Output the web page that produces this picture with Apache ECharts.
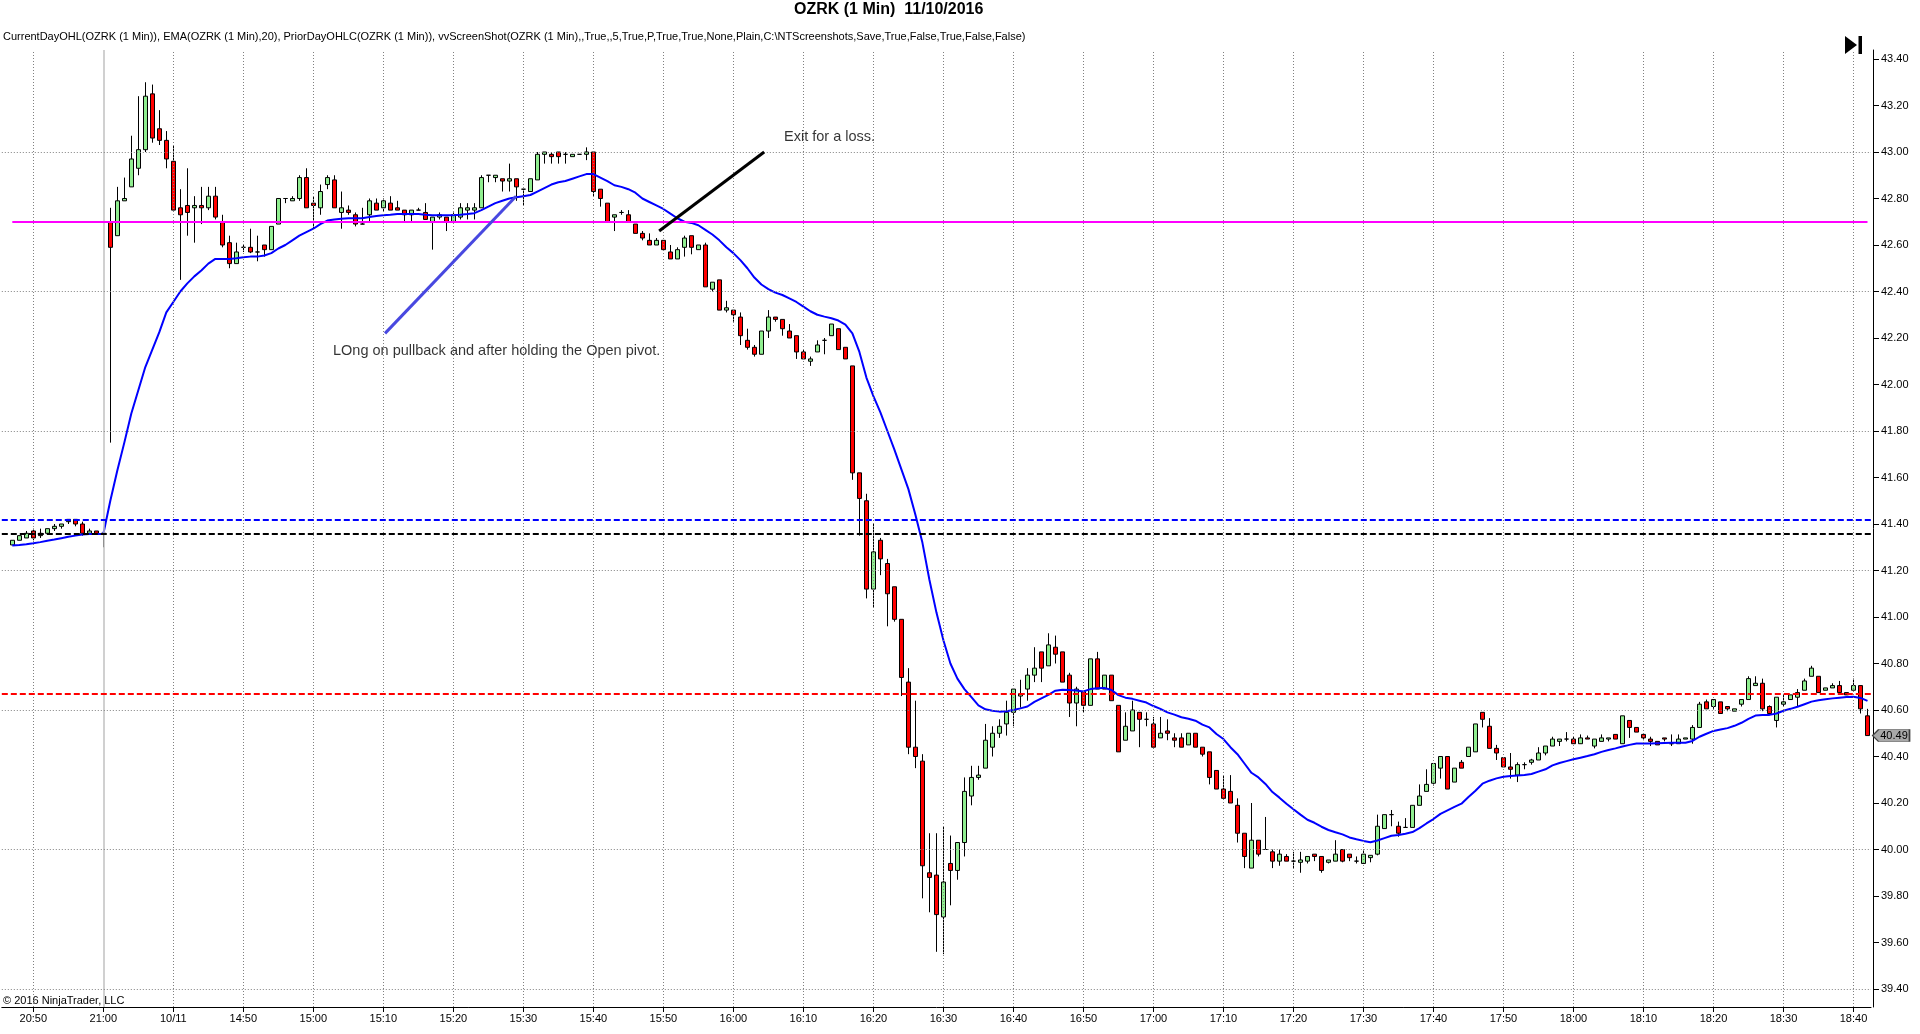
<!DOCTYPE html>
<html><head><meta charset="utf-8">
<script src="https://cdn.jsdelivr.net/npm/echarts@6/dist/echarts.min.js"></script>
<style>html,body{margin:0;padding:0;background:#fff;}#c{width:1920px;height:1034px;}</style>
</head><body><div id="c"></div>
<script>
// ---------- DATA ----------
const titleText = 'OZRK (1 Min)  11/10/2016';
const indicatorText = 'CurrentDayOHL(OZRK (1 Min)), EMA(OZRK (1 Min),20), PriorDayOHLC(OZRK (1 Min)), vvScreenShot(OZRK (1 Min),,True,,5,True,P,True,True,None,Plain,C:\\NTScreenshots,Save,True,False,True,False,False)';
const copyrightText = '\u00A9 2016 NinjaTrader, LLC';

// bar times: prior session 20:47-21:00, current session 14:31-18:42 (1-minute bars)
const priorSession = ['20:47', '21:00'];
const currentSession = ['14:31', '18:42'];

const opens = [41.31,41.33,41.34,41.37,41.35,41.36,41.38,41.39,41.41,41.42,41.40,41.36,41.37,41.36,
42.70,42.64,42.79,42.85,42.93,43.01,43.25,43.10,43.05,42.96,42.76,42.77,42.76,42.77,42.76,42.81,42.70,42.61,42.52,42.59,
42.59,42.57,42.60,42.58,42.69,42.80,42.79,42.80,42.89,42.78,42.76,42.86,42.88,42.74,42.75,42.73,42.69,42.73,42.78,42.76,42.78,42.76,42.75,42.73,42.75,42.74,42.70,42.72,42.72,42.70,42.72,42.75,42.75,42.76,42.90,42.89,
42.885,42.875,42.885,42.84,42.83,42.88,42.99,42.99,43.00,42.99,42.98,42.99,42.99,43.00,42.84,42.78,42.72,42.74,42.73,42.69,42.65,42.62,42.60,42.62,42.57,42.54,42.59,42.64,42.58,42.60,42.41,42.45,42.32,42.32,42.29,42.19,
42.16,42.13,42.23,42.29,42.28,42.23,42.21,42.14,42.10,42.14,42.19,42.21,42.24,42.16,42.08,41.62,41.50,41.12,41.33,41.23,41.13,40.99,40.72,40.44,40.38,39.90,39.89,39.71,39.94,39.91,40.03,40.23,40.31,40.35,40.44,40.50,
40.54,40.59,40.66,40.69,40.75,40.85,40.79,40.87,40.85,40.75,40.63,40.68,40.62,40.82,40.69,40.75,40.62,40.47,40.51,40.59,40.56,40.54,40.48,40.51,40.48,40.48,40.45,40.50,40.44,40.42,40.34,40.26,40.25,40.19,40.07,39.92,
40.04,40.00,39.99,39.95,39.97,39.95,39.945,39.95,39.98,39.97,39.945,39.95,40.00,39.98,39.95,39.94,39.965,39.98,40.09,40.15,40.10,40.095,40.095,40.19,40.25,40.285,40.35,40.40,40.29,40.375,40.40,40.42,40.59,40.53,40.435,40.395,
40.355,40.32,40.365,40.375,40.385,40.415,40.445,40.465,40.475,40.475,40.455,40.48,40.445,40.465,40.475,40.495,40.455,40.555,40.525,40.495,40.475,40.465,40.48,40.455,40.455,40.475,40.475,40.525,40.635,40.615,40.635,40.615,40.595,40.625,40.645,40.705,
40.715,40.615,40.555,40.625,40.645,40.655,40.685,40.745,40.745,40.685,40.695,40.705,40.675,40.685,40.705,40.575];

const closes = [41.33,41.35,41.36,41.34,41.36,41.38,41.39,41.40,41.42,41.40,41.36,41.37,41.36,41.36,
42.59,42.79,42.80,42.97,43.01,43.24,43.06,43.05,42.97,42.75,42.73,42.74,42.77,42.76,42.81,42.72,42.60,42.52,42.57,42.59,
42.57,42.57,42.58,42.68,42.80,42.80,42.80,42.89,42.76,42.77,42.83,42.89,42.76,42.76,42.74,42.69,42.69,42.79,42.75,42.79,42.75,42.75,42.73,42.75,42.75,42.71,42.72,42.73,42.70,42.73,42.76,42.76,42.76,42.89,42.90,42.90,
42.875,42.885,42.85,42.84,42.885,42.99,43.00,42.98,42.98,42.99,42.99,42.99,43.00,42.83,42.80,42.70,42.73,42.74,42.70,42.65,42.63,42.60,42.62,42.58,42.54,42.58,42.63,42.59,42.60,42.42,42.44,42.32,42.33,42.30,42.21,42.16,
42.13,42.23,42.29,42.28,42.24,42.20,42.14,42.11,42.11,42.17,42.19,42.26,42.15,42.11,41.62,41.51,41.12,41.28,41.25,41.10,40.99,40.74,40.44,40.40,39.93,39.88,39.72,39.86,39.91,40.03,40.25,40.31,40.32,40.47,40.50,40.53,
40.59,40.69,40.67,40.75,40.78,40.78,40.88,40.84,40.72,40.63,40.69,40.62,40.82,40.69,40.75,40.64,40.42,40.53,40.60,40.56,40.56,40.44,40.50,40.50,40.47,40.44,40.50,40.44,40.41,40.31,40.26,40.22,40.20,40.07,39.97,40.04,
39.98,40.00,39.95,39.98,39.95,39.95,39.955,39.97,39.97,39.91,39.955,39.98,39.95,39.965,39.95,39.98,39.975,40.10,40.15,40.15,40.07,40.095,40.19,40.23,40.28,40.37,40.40,40.26,40.35,40.35,40.44,40.54,40.56,40.435,40.415,40.355,
40.345,40.365,40.365,40.385,40.415,40.445,40.475,40.475,40.475,40.455,40.48,40.475,40.475,40.48,40.48,40.475,40.575,40.525,40.505,40.48,40.465,40.45,40.475,40.455,40.475,40.48,40.525,40.625,40.605,40.645,40.585,40.605,40.605,40.645,40.735,40.715,
40.605,40.585,40.655,40.635,40.665,40.675,40.725,40.78,40.675,40.695,40.705,40.675,40.665,40.705,40.605,40.49];

const lows = [41.31,41.33,41.34,41.33,41.34,41.36,41.37,41.38,41.40,41.39,41.35,41.36,41.36,41.30,
41.75,42.64,42.79,42.85,42.90,43.00,43.04,43.03,42.93,42.75,42.45,42.64,42.61,42.69,42.75,42.71,42.59,42.50,42.52,42.57,
42.565,42.53,42.55,42.58,42.69,42.78,42.79,42.79,42.76,42.67,42.73,42.84,42.76,42.67,42.73,42.68,42.69,42.70,42.75,42.745,42.75,42.75,42.70,42.70,42.75,42.71,42.58,42.71,42.66,42.70,42.71,42.71,42.71,42.76,42.87,42.87,
42.83,42.83,42.79,42.77,42.83,42.88,42.95,42.95,42.95,42.95,42.98,42.99,42.965,42.81,42.765,42.70,42.66,42.73,42.70,42.65,42.62,42.60,42.60,42.58,42.54,42.54,42.55,42.56,42.58,42.42,42.40,42.32,42.31,42.27,42.17,42.15,
42.12,42.13,42.20,42.27,42.21,42.20,42.11,42.11,42.08,42.14,42.13,42.21,42.15,42.11,41.59,41.35,41.08,41.04,41.18,40.96,40.98,40.66,40.41,40.35,39.79,39.73,39.56,39.55,39.76,39.87,39.97,40.19,40.30,40.35,40.40,40.48,
40.49,40.53,40.61,40.64,40.72,40.72,40.79,40.80,40.72,40.57,40.53,40.59,40.62,40.69,40.69,40.64,40.42,40.47,40.51,40.44,40.53,40.44,40.48,40.47,40.44,40.44,40.45,40.44,40.40,40.28,40.26,40.22,40.20,40.03,39.92,39.92,
39.97,40.00,39.92,39.93,39.95,39.92,39.90,39.94,39.95,39.90,39.94,39.95,39.945,39.95,39.94,39.94,39.945,39.975,40.09,40.10,40.055,40.095,40.095,40.19,40.25,40.275,40.305,40.26,40.29,40.35,40.40,40.42,40.525,40.435,40.385,40.355,
40.305,40.29,40.345,40.365,40.385,40.405,40.445,40.445,40.465,40.455,40.455,40.475,40.435,40.465,40.465,40.475,40.455,40.48,40.505,40.47,40.445,40.45,40.465,40.445,40.455,40.475,40.455,40.525,40.605,40.605,40.585,40.595,40.595,40.615,40.645,40.705,
40.595,40.585,40.525,40.615,40.645,40.615,40.685,40.745,40.675,40.685,40.695,40.675,40.665,40.685,40.585,40.49];

const highs = [41.33,41.35,41.37,41.38,41.38,41.38,41.40,41.40,41.42,41.42,41.41,41.38,41.37,41.36,
42.76,42.85,42.89,43.07,43.24,43.30,43.29,43.18,43.09,43.03,42.84,42.93,42.81,42.85,42.85,42.85,42.73,42.64,42.61,42.60,
42.67,42.64,42.60,42.68,42.80,42.80,42.81,42.90,42.93,42.81,42.86,42.90,42.90,42.83,42.77,42.74,42.76,42.80,42.80,42.80,42.81,42.79,42.75,42.75,42.76,42.78,42.72,42.74,42.72,42.74,42.78,42.78,42.78,42.90,42.90,42.90,
42.885,42.95,42.885,42.84,42.885,43.00,43.00,43.00,43.00,43.00,42.99,42.99,43.02,43.00,42.84,42.78,42.73,42.75,42.75,42.69,42.66,42.65,42.63,42.62,42.60,42.59,42.64,42.64,42.60,42.61,42.44,42.45,42.36,42.32,42.31,42.24,
42.17,42.23,42.32,42.29,42.28,42.26,42.21,42.15,42.12,42.19,42.20,42.26,42.24,42.16,42.08,41.62,41.53,41.40,41.34,41.25,41.13,40.99,40.78,40.64,40.41,40.07,40.07,40.10,40.06,40.03,40.31,40.36,40.36,40.54,40.53,40.56,
40.64,40.69,40.73,40.78,40.87,40.85,40.93,40.92,40.85,40.76,40.70,40.68,40.82,40.85,40.75,40.75,40.62,40.59,40.64,40.59,40.59,40.57,40.57,40.56,40.50,40.50,40.50,40.50,40.44,40.42,40.34,40.32,40.32,40.22,40.07,40.20,
40.04,40.14,40.00,40.00,39.98,39.99,39.99,39.97,39.98,39.97,39.955,40.04,40.00,39.98,39.97,40.00,39.975,40.15,40.15,40.17,40.12,40.135,40.19,40.28,40.345,40.37,40.40,40.40,40.35,40.385,40.44,40.54,40.59,40.565,40.45,40.395,
40.415,40.375,40.375,40.39,40.44,40.445,40.485,40.475,40.505,40.485,40.495,40.49,40.475,40.495,40.48,40.495,40.575,40.555,40.525,40.495,40.485,40.465,40.48,40.495,40.495,40.48,40.535,40.635,40.645,40.645,40.635,40.615,40.605,40.645,40.745,40.745,
40.735,40.62,40.655,40.665,40.665,40.69,40.735,40.79,40.745,40.695,40.715,40.725,40.675,40.735,40.705,40.605];

const ema20 = [41.308,41.31,41.313,41.317,41.322,41.328,41.333,41.339,41.345,41.35,41.355,41.357,41.357,41.357,
41.50,41.63,41.75,41.875,41.975,42.075,42.15,42.225,42.31,42.355,42.40,42.435,42.465,42.49,42.52,42.54,42.54,42.54,42.543,42.547,
42.55,42.55,42.555,42.565,42.585,42.60,42.62,42.64,42.655,42.67,42.69,42.705,42.71,42.713,42.715,42.715,42.715,42.72,42.725,42.728,42.73,42.733,42.733,42.733,42.733,42.73,42.728,42.728,42.728,42.728,42.73,42.733,42.737,42.75,42.765,42.78,
42.79,42.80,42.805,42.81,42.815,42.83,42.845,42.86,42.87,42.875,42.885,42.895,42.905,42.905,42.89,42.875,42.857,42.85,42.84,42.825,42.80,42.785,42.77,42.755,42.735,42.715,42.70,42.695,42.685,42.665,42.645,42.62,42.59,42.565,42.535,42.50,
42.46,42.43,42.41,42.395,42.385,42.37,42.355,42.335,42.315,42.30,42.292,42.285,42.275,42.258,42.22,42.14,42.03,41.95,41.88,41.80,41.72,41.635,41.55,41.44,41.32,41.16,41.02,40.90,40.80,40.735,40.69,40.655,40.62,40.603,40.597,40.593,
40.595,40.60,40.607,40.615,40.635,40.65,40.665,40.683,40.687,40.686,40.684,40.68,40.69,40.694,40.695,40.686,40.664,40.653,40.648,40.64,40.632,40.617,40.605,40.59,40.58,40.569,40.562,40.554,40.537,40.525,40.497,40.475,40.44,40.41,40.37,40.33,
40.31,40.282,40.247,40.223,40.197,40.173,40.15,40.128,40.115,40.098,40.084,40.074,40.065,40.052,40.044,40.037,40.031,40.039,40.049,40.059,40.062,40.068,40.075,40.092,40.112,40.131,40.153,40.168,40.183,40.197,40.226,40.253,40.283,40.296,40.306,40.313,
40.316,40.318,40.32,40.325,40.335,40.345,40.362,40.372,40.38,40.388,40.395,40.402,40.41,40.42,40.428,40.435,40.443,40.45,40.456,40.456,40.456,40.457,40.458,40.459,40.459,40.459,40.467,40.485,40.498,40.51,40.516,40.522,40.532,40.545,40.562,40.576,
40.579,40.579,40.585,40.597,40.605,40.614,40.625,40.636,40.642,40.646,40.65,40.653,40.656,40.657,40.652,40.639];

// x-axis tick labels
const xTickTimes  = ['20:50','21:00','14:40','14:50','15:00','15:10','15:20','15:30','15:40','15:50','16:00','16:10','16:20','16:30','16:40','16:50','17:00','17:10','17:20','17:30','17:40','17:50','18:00','18:10','18:20','18:30','18:40'];
const xTickLabels = ['20:50','21:00','10/11','14:50','15:00','15:10','15:20','15:30','15:40','15:50','16:00','16:10','16:20','16:30','16:40','16:50','17:00','17:10','17:20','17:30','17:40','17:50','18:00','18:10','18:20','18:30','18:40'];
const sessionBreak = '21:00';

// horizontal price grid levels (dotted)
const hGridLevels = [39.4, 40.0, 40.6, 41.2, 41.8, 42.4, 43.0];

// indicator levels
const currentDayOpen = 42.70;   // magenta
const priorDayHigh = 41.42;     // blue dashed
const priorDayClose = 41.36;    // black dashed
const priorDayLow = 40.675;     // red dashed

// y scale
const yMin = 39.3226, yMax = 43.4387;

// hand-drawn annotations, in (bar index, price) coordinates
const longLine = [[53.24, 42.22], [71.96, 42.81]];
const exitLine = [[92.4, 42.66], [107.4, 43.0]];
const noteExit = [110.24, 43.063, 'Exit for a loss.'];
const noteLong = [45.81, 42.146, 'LOng on pullback and after holding the Open pivot.'];

// ---------- BUILD ----------
const FONT = "'Liberation Sans', Arial, Helvetica, sans-serif";
function toMin(s){const p=s.split(':');return (+p[0])*60+(+p[1]);}
function fmt(m){const h=Math.floor(m/60),mm=m%60;return String(h).padStart(2,'0')+':'+String(mm).padStart(2,'0');}
const times = [];
for (const seg of [priorSession, currentSession]) {
  for (let m = toMin(seg[0]); m <= toMin(seg[1]); m++) times.push(fmt(m));
}
const categories = [''].concat(times);
const N = categories.length;
const candleData = [['-','-','-','-']].concat(times.map((t,i)=>[opens[i], closes[i], lows[i], highs[i]]));
const emaData = ['-'].concat(ema20);
const labelMap = {};
xTickTimes.forEach((t,i)=>{labelMap[t]=xTickLabels[i];});
const isTick = (idx, val) => Object.prototype.hasOwnProperty.call(labelMap, val);
const lastIdx = closes.length - 1;
const lastPrice = closes[lastIdx];

const dotted = {type:[1,2], color:'#808080', width:1};
const gridMarks = [];
xTickTimes.forEach(t => {
  if (t === sessionBreak) gridMarks.push({xAxis: t, lineStyle:{type:'solid', color:'#c0c0c0', width:1.5}});
  else gridMarks.push({xAxis: t, lineStyle: dotted});
});
hGridLevels.forEach(v => gridMarks.push({yAxis: v, lineStyle: dotted}));

const chart = echarts.init(document.getElementById('c'), null, {renderer:'canvas'});
const option = {
  animation: false,
  backgroundColor: '#ffffff',
  title: {
    text: titleText, left: 794, top: 2, padding: 0,
    textStyle: {fontSize: 16, fontWeight: 'bold', color: '#000', fontFamily: FONT}
  },
  grid: {left: 1.8, right: 49, top: 50, bottom: 27, containLabel: false, outerBoundsMode: 'none'},
  xAxis: [
    {
      type: 'category', data: categories, boundaryGap: true, gridIndex: 0,
      axisLine: {show: true, onZero: false, lineStyle: {color: '#000', width: 1}},
      axisTick: {show: true, alignWithLabel: true, interval: isTick, length: 5, lineStyle: {color: '#000'}},
      axisLabel: {show: true, interval: isTick, formatter: v => labelMap[v] || '', fontSize: 11, color: '#000', margin: 6, fontFamily: FONT},
      splitLine: {show: false}
    },
    {type: 'value', min: -1.5, max: N - 1.5, show: false, gridIndex: 0,
     axisLine: {show: false, onZero: false}, splitLine: {show: false}}
  ],
  yAxis: {
    type: 'value', position: 'right', offset: 2, min: yMin, max: yMax, scale: true,
    minInterval: 0.2, maxInterval: 0.2, splitNumber: 20,
    axisLine: {show: true, onZero: false, lineStyle: {color: '#000', width: 1}},
    axisTick: {show: true, length: 6, lineStyle: {color: '#000'}},
    axisLabel: {show: true, showMinLabel: false, showMaxLabel: false, fontSize: 11, color: '#000', margin: 8, fontFamily: FONT,
      formatter: v => v.toFixed(2)},
    splitLine: {show: false}
  },
  graphic: [
    {type: 'text', left: 3, top: 31, silent: true, style: {text: indicatorText, fill: '#000', fontSize: 11, fontFamily: FONT}},
    {type: 'text', left: 3, top: 995, silent: true, style: {text: copyrightText, fill: '#000', fontSize: 11, fontFamily: FONT}},
    {type: 'polygon', silent: true, shape: {points: [[1845,36],[1845,54],[1857,45]]}, style: {fill: '#000'}},
    {type: 'rect', silent: true, shape: {x: 1858.5, y: 36, width: 3.5, height: 18}, style: {fill: '#000'}}
  ],
  series: [
    {
      name: 'grid', type: 'line', data: [], z: 1, silent: true, xAxisIndex: 0,
      markLine: {silent: true, symbol: ['none','none'], label: {show: false}, animation: false, data: gridMarks}
    },
    {
      name: 'OZRK', type: 'candlestick', data: candleData, z: 2, barWidth: 4, silent: true, xAxisIndex: 0,
      itemStyle: {color: '#90ee90', color0: '#ff0000', borderColor: '#000', borderColor0: '#000', borderColorDoji: '#000', borderWidth: 1}
    },
    {
      name: 'levels', type: 'line', data: [], z: 3, silent: true, xAxisIndex: 0,
      markLine: {silent: true, symbol: ['none','none'], label: {show: false}, animation: false, data: [
        {yAxis: priorDayHigh, lineStyle: {type: [6,3], color: '#0000ff', width: 2}},
        {yAxis: priorDayClose, lineStyle: {type: [6,3], color: '#000000', width: 2}},
        {yAxis: priorDayLow, lineStyle: {type: [6,3], color: '#ff0000', width: 2}},
        [{coord: [categories[1], currentDayOpen], lineStyle: {type: 'solid', color: '#ff00ff', width: 2}},
         {coord: [categories[N-1], currentDayOpen]}]
      ]}
    },
    {
      name: 'EMA20', type: 'line', data: emaData, z: 4, silent: true, xAxisIndex: 0,
      symbol: 'none', lineStyle: {color: '#0000ff', width: 2}, connectNulls: false
    },
    {
      name: 'long', type: 'line', data: longLine, xAxisIndex: 1, z: 5, silent: true,
      symbol: 'none', lineStyle: {color: '#4848e0', width: 3}
    },
    {
      name: 'exit', type: 'line', data: exitLine, xAxisIndex: 1, z: 5, silent: true,
      symbol: 'none', lineStyle: {color: '#000000', width: 3}
    },
    {
      name: 'notes', type: 'scatter', xAxisIndex: 1, z: 6, silent: true, symbolSize: 0,
      data: [noteExit, noteLong].map(n => ({value: [n[0], n[1]], label: {formatter: n[2]}})),
      label: {show: true, position: 'right', distance: 0, color: '#000', fontSize: 14.5, fontFamily: FONT}
    },
    {
      name: 'last', type: 'scatter', xAxisIndex: 1, z: 7, silent: true, clip: false,
      data: [[lastIdx, lastPrice]],
      symbol: 'path://M0,6 L6,0 L37,0 L37,12 L6,12 Z', symbolSize: [37, 12], symbolOffset: [23.5, 0], symbolKeepAspect: false,
      itemStyle: {color: '#a8a8a8', borderColor: '#404040', borderWidth: 1, opacity: 1},
      label: {show: true, position: 'inside', offset: [3, 0], formatter: () => lastPrice.toFixed(2), color: '#000', fontSize: 11, fontFamily: FONT}
    }
  ]
};
chart.setOption(option);
</script></body></html>
